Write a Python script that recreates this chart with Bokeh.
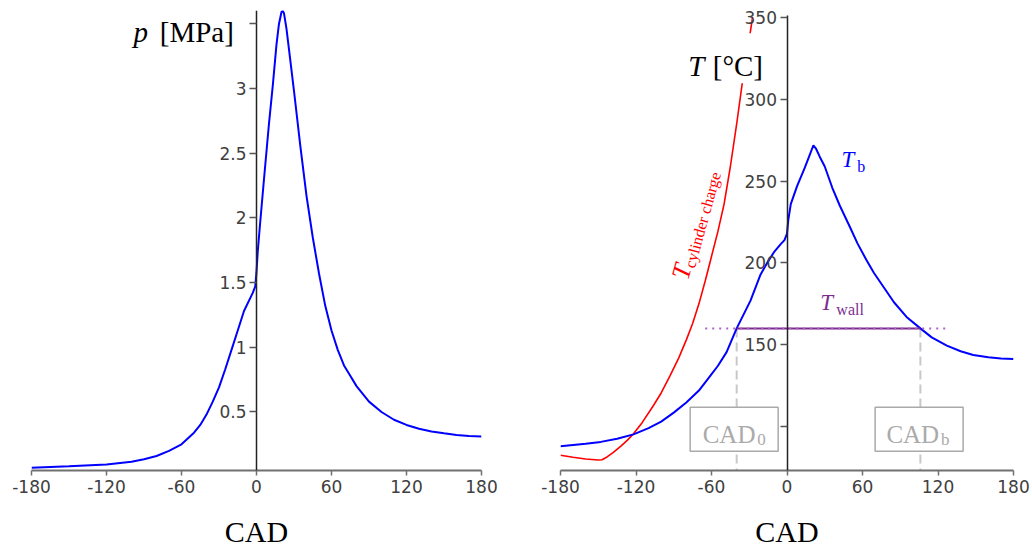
from bokeh.plotting import figure
from bokeh.models import Range1d, FixedTicker, CustomJSTickFormatter, Label
from bokeh.layouts import row
from bokeh.embed import file_html
from bokeh.resources import INLINE

# ---------------- data ----------------
x_ticks = [-180, -120, -60, 0, 60, 120, 180]
x_tick_labels = ["-180", "-120", "-60", "0", "60", "120", "180"]

p_ticks = [0.5, 1, 1.5, 2, 2.5, 3, 3.5]
p_tick_labels = ["0.5", "1", "1.5", "2", "2.5", "3", ""]

t_ticks = [100, 150, 200, 250, 300, 350]
t_tick_labels = ["", "150", "200", "250", "300", "350"]

# cylinder pressure [MPa] vs crank angle
p_cad = [-180, -150, -120, -100, -90, -80, -70, -60, -50, -45, -40, -35, -30, -25, -20,
         -15, -10, -6, -3, -1, 0, 1, 3, 6, 10, 13, 16, 18, 20, 21, 22, 24, 27, 30, 35,
         40, 45, 50, 55, 60, 65, 70, 75, 80, 90, 100, 110, 120, 130, 140, 150, 160, 170, 180]
p_mpa = [0.07, 0.08, 0.095, 0.115, 0.135, 0.16, 0.20, 0.25, 0.34, 0.40, 0.48, 0.58, 0.69, 0.83, 0.98,
         1.13, 1.28, 1.36, 1.42, 1.47, 1.58, 1.74, 1.97, 2.30, 2.73, 3.02, 3.34, 3.50, 3.59, 3.60, 3.58,
         3.46, 3.22, 2.98, 2.56, 2.17, 1.85, 1.57, 1.32, 1.13, 0.98, 0.86, 0.78, 0.70, 0.58, 0.50,
         0.44, 0.40, 0.37, 0.35, 0.335, 0.322, 0.315, 0.31]

# T_b [degC]
tb_cad = [-180, -160, -148, -135, -122, -110, -100, -90, -80, -70, -61, -55, -48, -40, -29, -21,
          -15, -10, -5, -2, 0, 1, 3, 8, 14, 18, 21, 23, 26, 30, 36, 42, 50, 56, 63, 69, 77, 85,
          95, 106, 115, 127, 138, 148, 160, 170, 180]
tb_val = [88, 89.5, 90.6, 92.5, 95.2, 99, 103, 108.5, 114.7, 122, 131, 137, 145.5, 160, 177, 193,
          201, 207, 211.5, 214, 218, 226, 236, 247, 258, 266, 272, 270, 265, 259, 246, 235, 222,
          212, 202, 194, 185, 176, 167, 160, 154.5, 149.5, 146, 143.7, 142.3, 141.6, 141.3]

# T cylinder charge [degC]
tc_cad = [-180, -170, -160, -150, -147, -143, -138, -132, -127, -122, -115, -106, -100, -93,
          -86, -80, -75, -70, -65, -60, -55, -50, -45, -40, -35, -30, -27.3]
tc_val = [82.4, 81.2, 80.1, 79.5, 79.7, 81.4, 84.2, 88, 91.5, 95.6, 102.5, 113, 120.5, 131,
          142, 153, 163, 175, 189, 204, 219, 236, 259, 285, 313, 337, 350.5]

t_wall = 160
t_wall_span = [-65, 128]
cad_0 = -40
cad_b = 106

SERIF = "Liberation Serif"
SANS = "DejaVu Sans"
PURPLE = "#7b2d8e"

FMT_CODE = "const i = tvals.indexOf(tick); return i >= 0 ? tlabels[i] : '';"


def style(p, yticks, ylabels):
    p.outline_line_color = None
    p.grid.visible = False
    p.background_fill_color = "white"
    p.border_fill_color = "white"
    xa = p.xaxis[0]
    xa.ticker = FixedTicker(ticks=x_ticks)
    xa.formatter = CustomJSTickFormatter(args=dict(tvals=x_ticks, tlabels=x_tick_labels), code=FMT_CODE)
    xa.axis_line_color = "#707070"
    xa.axis_line_width = 2
    xa.major_tick_line_color = "#707070"
    xa.major_tick_line_width = 1.5
    xa.major_tick_out = 5
    xa.major_tick_in = 0
    xa.minor_tick_line_color = None
    xa.major_label_text_font = SANS
    xa.major_label_text_font_size = "17px"
    xa.major_label_text_color = "#404040"
    xa.major_label_standoff = 4
    xa.axis_label = "CAD"
    xa.axis_label_text_font = SERIF
    xa.axis_label_text_font_size = "30px"
    xa.axis_label_text_font_style = "normal"
    xa.axis_label_text_color = "black"
    xa.axis_label_standoff = 19
    ya = p.yaxis[0]
    ya.fixed_location = 0
    ya.ticker = FixedTicker(ticks=yticks)
    ya.formatter = CustomJSTickFormatter(args=dict(tvals=yticks, tlabels=ylabels), code=FMT_CODE)
    ya.axis_line_color = "#222222"
    ya.axis_line_width = 1.5
    ya.major_tick_line_color = "#555555"
    ya.major_tick_line_width = 1.5
    ya.major_tick_out = 7
    ya.major_tick_in = 0
    ya.minor_tick_line_color = None
    ya.major_label_text_font = SANS
    ya.major_label_text_font_size = "17px"
    ya.major_label_text_color = "#404040"
    ya.major_label_standoff = 3


def text(p, x, y, s, size, color, italic=False, angle=0.0):
    # y is the alphabetic baseline; lift by the font descent
    p.add_layout(Label(x=x, y=y, text=s, text_font=SERIF,
                       text_font_style="italic" if italic else "normal",
                       text_font_size=f"{size}px", text_color=color, text_baseline="alphabetic",
                       angle=angle, y_offset=round(0.216 * size, 1)))


# ---------------- left: pressure ----------------
p1 = figure(width=516, height=550, x_range=Range1d(-180, 180), y_range=Range1d(0.048, 3.602),
            output_backend="svg", toolbar_location=None, title_location=None,
            min_border_left=31, min_border_right=35, min_border_top=10, min_border_bottom=78)
style(p1, p_ticks, p_tick_labels)
p1.line(p_cad, p_mpa, line_color="#0000ff", line_width=2)

text(p1, -98.4, 3.39, "p", 29, "black", italic=True)
text(p1, -77.4, 3.39, "[MPa]", 29, "black")

# ---------------- right: temperatures ----------------
p2 = figure(width=516, height=550, x_range=Range1d(-180, 180), y_range=Range1d(73.1, 354.4),
            output_backend="svg", toolbar_location=None, title_location=None,
            min_border_left=44, min_border_right=19, min_border_top=10, min_border_bottom=78)
style(p2, t_ticks, t_tick_labels)
p2.yaxis[0].bounds = (73.1, 351.4)

y_bottom = p2.y_range.start
p2.segment(x0=[cad_0, cad_b], y0=[t_wall, t_wall], x1=[cad_0, cad_b], y1=[y_bottom, y_bottom],
           line_color="#c8c8c8", line_width=2, line_dash="9 5")
p2.line(tc_cad, tc_val, line_color="#ff0000", line_width=1.6)
p2.line(tb_cad, tb_val, line_color="#0000ff", line_width=2)
p2.line([cad_0, cad_b], [t_wall, t_wall], line_color=PURPLE, line_width=2)
p2.line(t_wall_span, [t_wall, t_wall], line_color="#b060c8", line_width=2, line_dash="2 5")

# white backing of the axis title (hides the red curve underneath)
p2.rect(x=-49, y=325.2, width=80, height=50, width_units="screen", height_units="screen",
        fill_color="white", line_color=None)
# CAD boxes
p2.rect(x=[cad_0 - 2, cad_b - 1], y=[98.4, 98.4], width=88, height=44,
        width_units="screen", height_units="screen",
        fill_color="white", line_color="#aaaaaa", line_width=1.5)

text(p2, -78.5, 316.9, "T", 29, "black", italic=True)
text(p2, -59.0, 316.9, "[°C]", 29, "black")

for xc, sub in [(cad_0, "0"), (cad_b, "b")]:
    p2.add_layout(Label(x=xc, y=92.1, x_offset=-34, y_offset=5.4, text="CAD", text_font=SERIF,
                        text_font_size="25px", text_color="#aaaaaa", text_baseline="alphabetic"))
    p2.add_layout(Label(x=xc, y=89.5, x_offset=20.5, y_offset=3.7, text=sub, text_font=SERIF,
                        text_font_size="17px", text_color="#aaaaaa", text_baseline="alphabetic"))

# curve labels
text(p2, 43.3, 260.0, "T", 23, "#0000ff", italic=True)
text(p2, 55.9, 257.0, "b", 16, "#0000ff")
text(p2, 26.5, 172.8, "T", 23, PURPLE, italic=True)
text(p2, 39.2, 169.7, "wall", 16, PURPLE)
# rotated label along the red curve (descent compensation applied along the rotated axis)
p2.add_layout(Label(x=-85.1, y=190.3, angle=1.30, text="T", text_font=SERIF,
                    text_font_style="italic", text_font_size="26px", text_color="#ff0000",
                    text_baseline="alphabetic"))
p2.add_layout(Label(x=-77.6, y=197.2, angle=1.30, text="cylinder charge", text_font=SERIF,
                    text_font_size="16px", text_color="#ff0000", text_baseline="alphabetic"))

layout = row(p1, p2)
open("out.html", "w").write(file_html(layout, INLINE))
